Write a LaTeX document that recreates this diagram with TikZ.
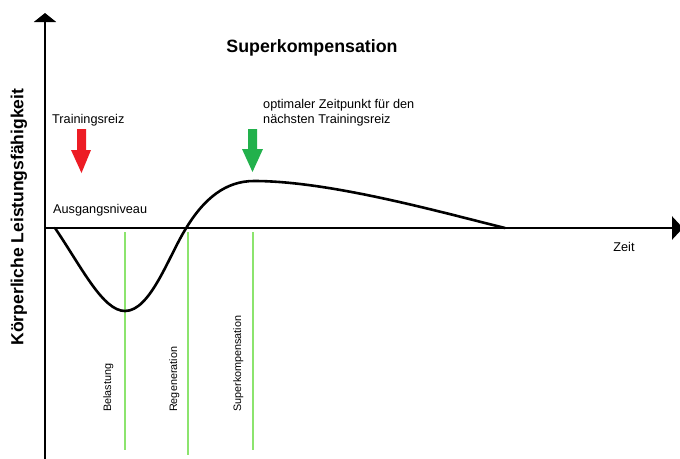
\documentclass[tikz,border=0pt]{standalone}
\usepackage{fontspec}
\setmainfont{Liberation Sans}
\usetikzlibrary{arrows.meta}

\definecolor{reizrot}{RGB}{237,28,36}
\definecolor{reizgruen}{RGB}{34,177,76}
\definecolor{phasegruen}{RGB}{140,228,110}

\begin{document}
\begin{tikzpicture}[x=1pt, y=-1pt, >=Triangle]
  \tikzstyle{achse}=[line width=2.8pt]
  \tikzstyle{kurve}=[line width=2.6pt, line cap=round]
  \tikzstyle{phase}=[phasegruen, line width=1.4pt]
  \tikzstyle{txt}=[inner sep=0pt, font=\fontsize{12.7}{15}\selectfont]
  \tikzstyle{klein}=[inner sep=0pt, rotate=90, anchor=base west, font=\fontsize{10.8}{13}\selectfont]

  \useasboundingbox (0,0) rectangle (680,458);

  % Achsen
  \coordinate (O) at (45,228);
  \coordinate (Yunten) at (45,462);
  \coordinate (Yoben) at (45,13);
  \coordinate (Xrechts) at (683,228);
  \draw[achse, -{Triangle[width=22pt, length=9pt]}] (Yunten) -- (Yoben);
  \draw[achse, -{Triangle[width=23pt, length=11pt]}] (O) -- (Xrechts);

  % Phasen
  \coordinate (B1) at (125,232); \coordinate (B2) at (125,450);
  \coordinate (R1) at (188,232); \coordinate (R2) at (188,455);
  \coordinate (S1) at (253,232); \coordinate (S2) at (253,450);
  \draw[phase] (B1) -- (B2);
  \draw[phase] (R1) -- (R2);
  \draw[phase] (S1) -- (S2);

  % Verlauf
  \draw[kurve] (55,228) .. controls (82,268) and (103,311) .. (125,311)
    .. controls (150,311) and (168,258) .. (185,230)
    .. controls (204,198) and (226,181) .. (254,181)
    .. controls (330,181) and (440,212) .. (505,228);

  % Pfeile
  \fill[reizrot] (77,129) -- (86,129) -- (86,150) -- (91,150) -- (81.5,173)
    -- (71,150) -- (77,150) -- cycle;
  \fill[reizgruen] (248,129) -- (257,129) -- (257,149) -- (263,149) -- (252.5,172)
    -- (242,149) -- (248,149) -- cycle;

  % Texte
  \node[font=\fontsize{17.8}{20}\selectfont\bfseries, anchor=base, inner sep=0pt] (titel) at (312,52) {Superkompensation};
  \node[font=\fontsize{17.5}{20}\selectfont\bfseries, rotate=90, inner sep=0pt] (ylabel) at (19,217) {Körperliche Leistungsfähigkeit};
  \node[txt, anchor=base west] (reiz) at (52,123) {Trainingsreiz};
  \node[txt, anchor=base west] (niveau) at (53,213) {Ausgangsniveau};
  \node[txt, anchor=base west, align=left] (optimal) at (263,123) {optimaler Zeitpunkt für den\\nächsten Trainingsreiz};
  \node[txt, anchor=base] (zeit) at (624,251) {Zeit};
  \node[klein] (belastung) at (111,412) {Belastung};
  \node[klein] (regeneration) at (177,412) {Regeneration};
  \node[klein] (superkomp) at (241,412) {Superkompensation};
\end{tikzpicture}
\end{document}
